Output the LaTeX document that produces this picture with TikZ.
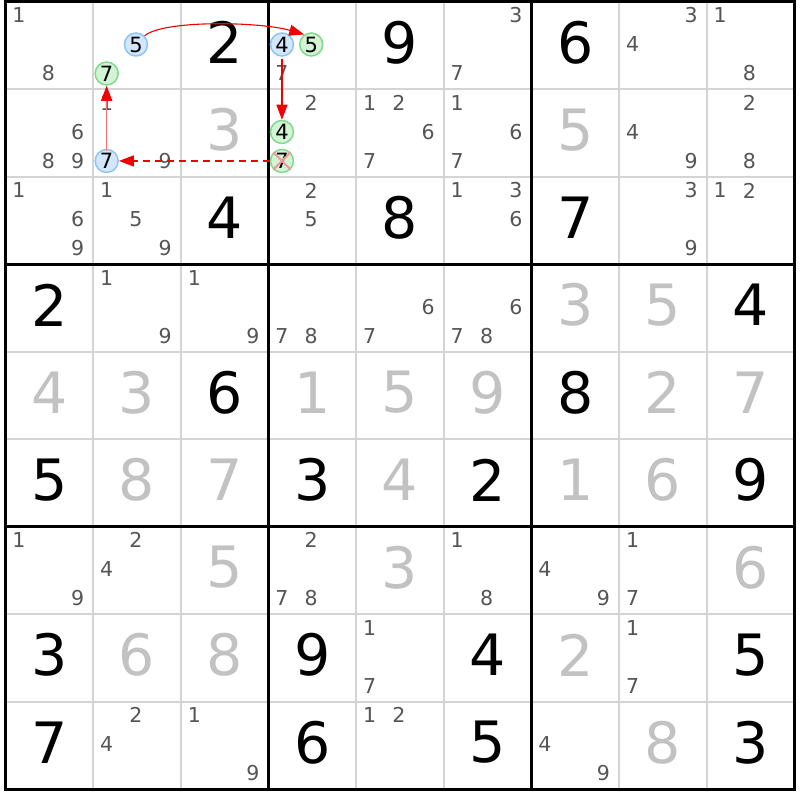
\documentclass[tikz,border=0pt]{standalone}
\usepackage{fontspec}
\setmainfont{DejaVu Sans}
\usetikzlibrary{arrows.meta}
\definecolor{candgray}{HTML}{555555}
\definecolor{solvedgray}{HTML}{C2C2C2}
\definecolor{thingrid}{HTML}{D4D4D4}
\definecolor{bluefill}{HTML}{D2E7FC}
\definecolor{bluedraw}{HTML}{90C4F2}
\definecolor{greenfill}{HTML}{D3F3D5}
\definecolor{greendraw}{HTML}{82D98E}
\definecolor{arrowred}{HTML}{F00000}
\definecolor{crosspink}{HTML}{F29A9A}
\newcommand\givn[3]{\node[given] (g-#1-#2) at ({5.5+87.65*(#2+0.5)},{2+87.45*(#1+0.5)-3}) {#3};}
\newcommand\solv[3]{\node[solved] (s-#1-#2) at ({5.5+87.65*(#2+0.5)},{2+87.45*(#1+0.5)-3}) {#3};}
\newcommand\cands[3]{\foreach \d in {#3}{%
  \pgfmathtruncatemacro\cc{mod(\d-1,3)}%
  \pgfmathtruncatemacro\rr{int((\d-1)/3)}%
  \node[cand] (c-#1-#2-\d) at ({5.5+87.65*#2+13.5+29.3*\cc},{2+87.45*#1+13.5+29*\rr}) {\d};}}
\newcommand\hlc[5]{%
  \pgfmathtruncatemacro\cc{mod(#4-1,3)}%
  \pgfmathtruncatemacro\rr{int((#4-1)/3)}%
  \node[#1] (#5) at ({5.5+87.65*#3+13.5+29.3*\cc},{2+87.45*#2+13.5+29*\rr}) {#4};}
\begin{document}
\begin{tikzpicture}[x=1pt,y=-1pt,
  given/.style={inner sep=0pt, text=black, font=\fontsize{57}{60}\selectfont},
  solved/.style={inner sep=0pt, text=solvedgray, font=\fontsize{57}{60}\selectfont},
  cand/.style={inner sep=0pt, text=candgray, font=\fontsize{20.5}{22}\selectfont},
  hlbase/.style={circle, inner sep=0pt, minimum size=23pt, line width=1.5pt, text=black, font=\fontsize{21}{23}\selectfont},
  hlblue/.style={hlbase, draw=bluedraw, fill=bluefill},
  hlgreen/.style={hlbase, draw=greendraw, fill=greenfill},
  thin grid/.style={draw=thingrid, line width=2pt},
  thick grid/.style={draw=black, line width=3pt},
  linkarrow/.style={draw=arrowred, line width=1.4pt, -{Triangle[length=15pt,width=11pt,color=arrowred]}},
  crossline/.style={draw=crosspink, line width=2pt}
]
\useasboundingbox (0,0) rectangle (800,800);
\fill[white] (0,0) rectangle (800,800);
% thin grid lines
\foreach \i in {1,2,4,5,7,8}{
  \draw[thin grid] ({5.5+87.65*\i},2) -- ({5.5+87.65*\i},{2+87.45*9});
  \draw[thin grid] (5.5,{2+87.45*\i}) -- ({5.5+87.65*9},{2+87.45*\i});
}
% thick box lines
\foreach \i in {3,6}{
  \draw[thick grid] ({5.5+87.65*\i},2) -- ({5.5+87.65*\i},{2+87.45*9});
  \draw[thick grid] (5.5,{2+87.45*\i}) -- ({5.5+87.65*9},{2+87.45*\i});
}
\draw[thick grid] (5.5,2) rectangle ({5.5+87.65*9},{2+87.45*9});
% row 0
\cands{0}{0}{1,8}
\givn{0}{2}{2}
\cands{0}{3}{7}
\givn{0}{4}{9}
\cands{0}{5}{3,7}
\givn{0}{6}{6}
\cands{0}{7}{3,4}
\cands{0}{8}{1,8}
% row 1
\cands{1}{0}{6,8,9}
\cands{1}{1}{1,9}
\solv{1}{2}{3}
\cands{1}{3}{2}
\cands{1}{4}{1,2,6,7}
\cands{1}{5}{1,6,7}
\solv{1}{6}{5}
\cands{1}{7}{4,9}
\cands{1}{8}{2,8}
% row 2
\cands{2}{0}{1,6,9}
\cands{2}{1}{1,5,9}
\givn{2}{2}{4}
\cands{2}{3}{2,5}
\givn{2}{4}{8}
\cands{2}{5}{1,3,6}
\givn{2}{6}{7}
\cands{2}{7}{3,9}
\cands{2}{8}{1,2}
% row 3
\givn{3}{0}{2}
\cands{3}{1}{1,9}
\cands{3}{2}{1,9}
\cands{3}{3}{7,8}
\cands{3}{4}{6,7}
\cands{3}{5}{6,7,8}
\solv{3}{6}{3}
\solv{3}{7}{5}
\givn{3}{8}{4}
% row 4
\solv{4}{0}{4}
\solv{4}{1}{3}
\givn{4}{2}{6}
\solv{4}{3}{1}
\solv{4}{4}{5}
\solv{4}{5}{9}
\givn{4}{6}{8}
\solv{4}{7}{2}
\solv{4}{8}{7}
% row 5
\givn{5}{0}{5}
\solv{5}{1}{8}
\solv{5}{2}{7}
\givn{5}{3}{3}
\solv{5}{4}{4}
\givn{5}{5}{2}
\solv{5}{6}{1}
\solv{5}{7}{6}
\givn{5}{8}{9}
% row 6
\cands{6}{0}{1,9}
\cands{6}{1}{2,4}
\solv{6}{2}{5}
\cands{6}{3}{2,7,8}
\solv{6}{4}{3}
\cands{6}{5}{1,8}
\cands{6}{6}{4,9}
\cands{6}{7}{1,7}
\solv{6}{8}{6}
% row 7
\givn{7}{0}{3}
\solv{7}{1}{6}
\solv{7}{2}{8}
\givn{7}{3}{9}
\cands{7}{4}{1,7}
\givn{7}{5}{4}
\solv{7}{6}{2}
\cands{7}{7}{1,7}
\givn{7}{8}{5}
% row 8
\givn{8}{0}{7}
\cands{8}{1}{2,4}
\cands{8}{2}{1,9}
\givn{8}{3}{6}
\cands{8}{4}{1,2}
\givn{8}{5}{5}
\cands{8}{6}{4,9}
\solv{8}{7}{8}
\givn{8}{8}{3}
% highlighted candidates
\hlc{hlblue}{0}{1}{5}{h5a}
\hlc{hlgreen}{0}{1}{7}{h7g}
\hlc{hlblue}{0}{3}{4}{h4a}
\hlc{hlgreen}{0}{3}{5}{h5b}
\hlc{hlblue}{1}{1}{7}{h7b}
\hlc{hlgreen}{1}{3}{4}{h4b}
\hlc{hlgreen}{1}{3}{7}{h7x}
\draw[crossline] (h7x.45) -- (h7x.225);
\draw[crossline] (h7x.135) -- (h7x.315);
% links
\draw[linkarrow, line width=1.1pt] (h5a.45) .. controls +(18,-16) and +(-45,-13) .. (h5b.125);
\draw[linkarrow] ([yshift=-2pt]h4a.south) -- (h4b.north);
\draw[linkarrow, dash pattern=on 7pt off 5pt] (h7x.west) -- (h7b.east);
\draw[linkarrow, draw=arrowred!55] ([yshift=-2pt]h7b.north) -- (h7g.south);
\end{tikzpicture}
\end{document}
